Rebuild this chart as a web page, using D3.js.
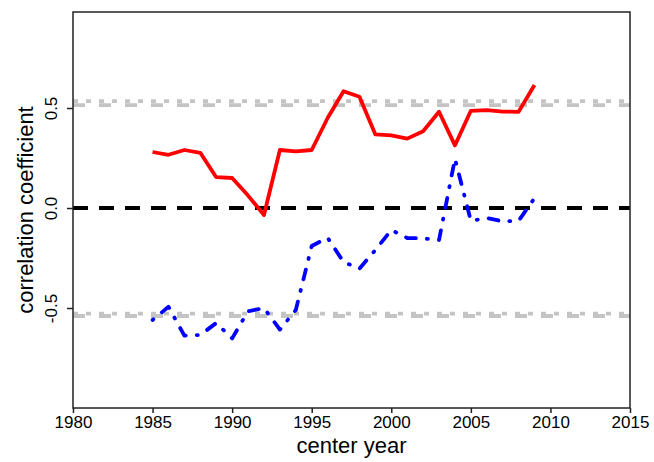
<!DOCTYPE html>
<html>
<head>
<meta charset="utf-8">
<script src="https://cdn.jsdelivr.net/npm/d3@7"></script>
<style>
  html, body { margin: 0; padding: 0; background: #fff; }
  svg { display: block; font-family: "Liberation Sans", Arial, sans-serif; }
</style>
</head>
<body>
<svg id="chart" width="654" height="462"></svg>
<script>
// Moving-window correlation coefficients by center year
const years = [1985, 1986, 1987, 1988, 1989, 1990, 1991, 1992, 1993, 1994, 1995, 1996,
               1997, 1998, 1999, 2000, 2001, 2002, 2003, 2004, 2005, 2006, 2007, 2008, 2009];
const redSeries = [0.28, 0.266, 0.29, 0.276, 0.154, 0.15, 0.062, -0.035, 0.29, 0.283, 0.29, 0.45,
                   0.584, 0.556, 0.368, 0.363, 0.347, 0.384, 0.481, 0.313, 0.486, 0.489, 0.482, 0.481, 0.615];
const blueSeries = [-0.56, -0.494, -0.638, -0.635, -0.575, -0.652, -0.516, -0.5, -0.608, -0.51, -0.19, -0.149,
                    -0.27, -0.303, -0.21, -0.11, -0.15, -0.152, -0.16, 0.246, -0.064, -0.05, -0.067, -0.064, 0.049];
// Significance thresholds
const upperThresholds = [0.534, 0.514];
const lowerThresholds = [-0.528, -0.54];
const xTicks = [1980, 1985, 1990, 1995, 2000, 2005, 2010, 2015];
const yTicks = [-0.5, 0.0, 0.5];
const yTickLabels = ["-0.5", "0.0", "0.5"];

const svg = d3.select("#chart");
const plotLeft = 73, plotRight = 630, plotTop = 12, plotBottom = 408;

const x = d3.scaleLinear().domain([1980, 2015]).range([plotLeft, plotRight]);
const y = d3.scaleLinear().domain([-1, 0.98]).range([plotBottom, plotTop]);

const plot = svg.append("g");

// threshold lines: dotted + dashed pairs
const refLine = (val, dash) => plot.append("line")
  .attr("x1", plotLeft).attr("x2", plotRight)
  .attr("y1", y(val)).attr("y2", y(val))
  .attr("stroke", "#c4c4c4").attr("stroke-width", 3.8)
  .attr("stroke-dasharray", dash);

refLine(upperThresholds[0], "5,8");
refLine(upperThresholds[1], "12,14");
refLine(lowerThresholds[0], "5,8");
refLine(lowerThresholds[1], "12,14");

// zero line
plot.append("line")
  .attr("x1", plotLeft).attr("x2", plotRight)
  .attr("y1", y(0)).attr("y2", y(0))
  .attr("stroke", "#000").attr("stroke-width", 4)
  .attr("stroke-dasharray", "15,11");

const line = d3.line().x(d => x(d[0])).y(d => y(d[1]));

plot.append("path")
  .datum(years.map((yr, i) => [yr, redSeries[i]]))
  .attr("d", line)
  .attr("fill", "none")
  .attr("stroke", "#ff0000")
  .attr("stroke-width", 3.8)
  .attr("stroke-linejoin", "round");

plot.append("path")
  .datum(years.map((yr, i) => [yr, blueSeries[i]]))
  .attr("d", line)
  .attr("fill", "none")
  .attr("stroke", "#0000ff")
  .attr("stroke-width", 3.8)
  .attr("stroke-linecap", "round")
  .attr("stroke-linejoin", "round")
  .attr("stroke-dasharray", "1,11,10,11");

// frame
svg.append("rect")
  .attr("x", plotLeft).attr("y", plotTop)
  .attr("width", plotRight - plotLeft).attr("height", plotBottom - plotTop)
  .attr("fill", "none").attr("stroke", "#222").attr("stroke-width", 1.5);

// x axis
const xAxis = svg.append("g")
  .attr("transform", `translate(0,${plotBottom})`)
  .call(d3.axisBottom(x).tickValues(xTicks).tickFormat(d3.format("d")).tickSize(5).tickPadding(3));
xAxis.select(".domain").remove();
xAxis.selectAll(".tick line").attr("stroke", "#222").attr("stroke-width", 1.5);
xAxis.selectAll(".tick text").attr("font-size", 17).attr("fill", "#000")
  .attr("font-family", "Liberation Sans, Arial, sans-serif");

// y axis
const yAxis = svg.append("g")
  .attr("transform", `translate(${plotLeft},0)`)
  .call(d3.axisLeft(y).tickValues(yTicks).tickSize(6).tickFormat((d, i) => yTickLabels[i]));
yAxis.select(".domain").remove();
yAxis.selectAll(".tick line").attr("stroke", "#222").attr("stroke-width", 1.5);
yAxis.selectAll(".tick text")
  .attr("font-size", 17).attr("fill", "#000")
  .attr("font-family", "Liberation Sans, Arial, sans-serif")
  .attr("text-anchor", "middle")
  .attr("dy", null)
  .attr("x", null)
  .attr("transform", "translate(-16,0) rotate(-90)");

// axis titles
svg.append("text")
  .attr("x", (plotLeft + plotRight) / 2).attr("y", 453)
  .attr("text-anchor", "middle")
  .attr("font-size", 22)
  .text("center year");

svg.append("text")
  .attr("transform", `translate(33,${(plotTop + plotBottom) / 2}) rotate(-90)`)
  .attr("text-anchor", "middle")
  .attr("font-size", 22)
  .text("correlation coefficient");
</script>
</body>
</html>
